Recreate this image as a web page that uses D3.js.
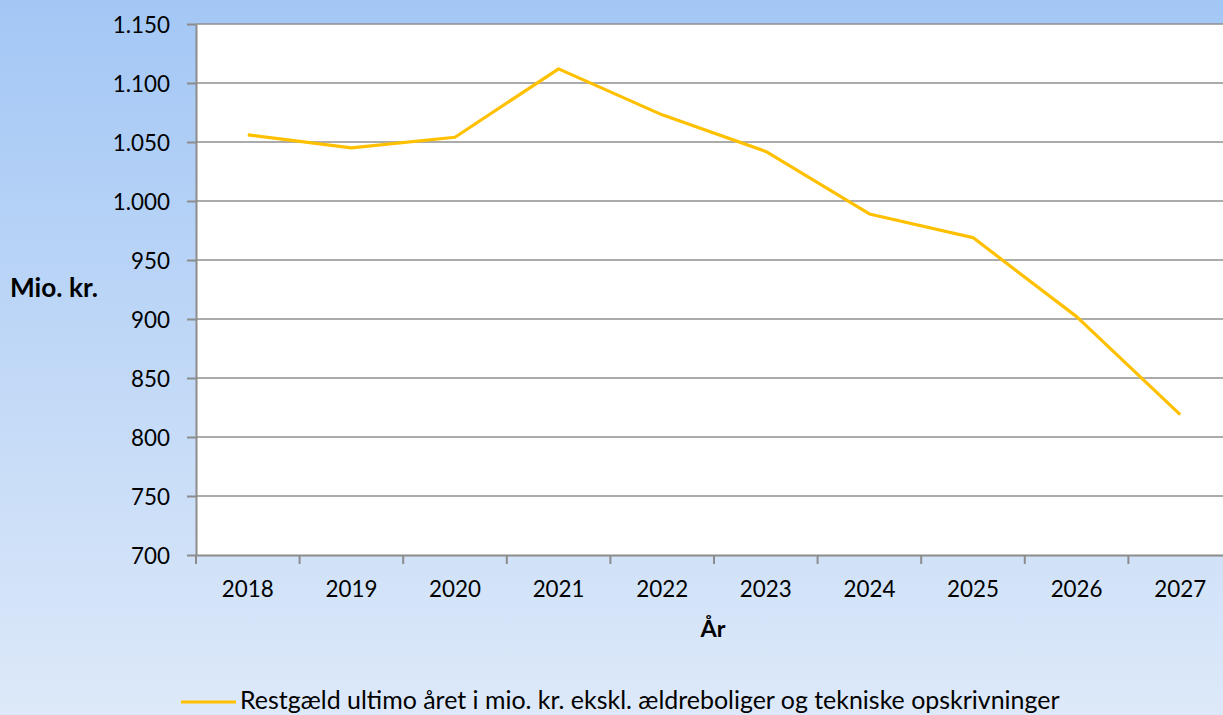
<!DOCTYPE html>
<html>
<head>
<meta charset="utf-8">
<script src="https://cdn.jsdelivr.net/npm/d3@7"></script>
<style>
  html, body { margin: 0; padding: 0; }
  svg { display: block; }
  svg text { font-family: Lato, "Open Sans", sans-serif; fill: #000; }
</style>
</head>
<body>
<svg id="chart" width="1223" height="715"></svg>
<script>
var years = ["2018", "2019", "2020", "2021", "2022", "2023", "2024", "2025", "2026", "2027"];
var restgaeld = [1056, 1045, 1054, 1112, 1073, 1042, 989, 969, 902, 819];
var yTicks = [700, 750, 800, 850, 900, 950, 1000, 1050, 1100, 1150];
var seriesName = "Restgæld ultimo året i mio. kr. ekskl. ældreboliger og tekniske opskrivninger";

var W = 1223, H = 715;
var margin = {left: 196, top: 24, right: -9, bottom: 160};
var svg = d3.select("#chart");

// size a text so that it gets the width it has in the picture
function fitText(sel, width) {
    var w = sel.node().getComputedTextLength();
    var fs = parseFloat(sel.attr("font-size"));
    sel.attr("font-size", fs * width / w);
}

// background gradient
var defs = svg.append("defs");
var grad = defs.append("linearGradient").attr("id", "bg")
    .attr("x1", 0).attr("y1", 0).attr("x2", 0).attr("y2", 1);
grad.append("stop").attr("offset", "0%").attr("stop-color", "#a3c7f5");
grad.append("stop").attr("offset", "100%").attr("stop-color", "#dde9f9");
svg.append("rect").attr("width", W).attr("height", H).attr("fill", "url(#bg)");

var x = d3.scaleBand().domain(years).range([margin.left, W - margin.right]);
var y = d3.scaleLinear().domain([700, 1150]).range([H - margin.bottom, margin.top]);

var locale = d3.formatLocale({decimal: ",", thousands: ".", grouping: [3], currency: ["", " kr."]});
var fmt = locale.format(",d");

// plot area
svg.append("rect")
    .attr("x", margin.left).attr("y", margin.top)
    .attr("width", W - margin.right - margin.left)
    .attr("height", y(700) - y(1150))
    .attr("fill", "#fff");

// gridlines
svg.append("g").selectAll("line")
    .data(yTicks.slice(1))
    .enter().append("line")
    .attr("x1", margin.left).attr("x2", W)
    .attr("y1", function(d) { return y(d); })
    .attr("y2", function(d) { return y(d); })
    .attr("stroke", "#8f8f8f").attr("stroke-width", 1.3);

// y axis
var yAxis = svg.append("g")
    .attr("transform", "translate(" + margin.left + ",0)")
    .call(d3.axisLeft(y).tickValues(yTicks).tickFormat(fmt).tickSize(9).tickSizeOuter(0).tickPadding(17));
yAxis.attr("font-family", null).attr("font-size", null);
yAxis.select(".domain").attr("stroke", "#8c8c8c").attr("stroke-width", 2);
yAxis.selectAll(".tick line").attr("stroke", "#8c8c8c").attr("stroke-width", 2);
yAxis.selectAll("text").attr("font-size", 22.4).attr("fill", null).attr("dy", "0.36em");

// x axis
var xAxis = svg.append("g")
    .attr("transform", "translate(0," + y(700) + ")")
    .call(d3.axisBottom(x).tickSize(0).tickPadding(26));
xAxis.attr("font-family", null).attr("font-size", null);
xAxis.select(".domain").attr("stroke", "#8c8c8c").attr("stroke-width", 2);
xAxis.selectAll("text").attr("font-size", 22.4).attr("fill", null);
// tick marks at band boundaries
xAxis.append("g").selectAll("line")
    .data(years)
    .enter().append("line")
    .attr("x1", function(d) { return x(d); })
    .attr("x2", function(d) { return x(d); })
    .attr("y1", 0).attr("y2", 9)
    .attr("stroke", "#8c8c8c").attr("stroke-width", 2);

// series line
var line = d3.line()
    .x(function(d, i) { return x(years[i]) + x.bandwidth() / 2; })
    .y(function(d) { return y(d); });
svg.append("path")
    .datum(restgaeld)
    .attr("d", line)
    .attr("fill", "none")
    .attr("stroke", "#ffc000")
    .attr("stroke-width", 3.2)
    .attr("stroke-linejoin", "round");

// axis titles
var yTitle = svg.append("text").attr("x", 10).attr("y", 297)
    .attr("font-size", 20).attr("font-weight", "bold").text("Mio. kr.");
fitText(yTitle, 88);
var xTitle = svg.append("text").attr("x", 713).attr("y", 637).attr("text-anchor", "middle")
    .attr("font-size", 20).attr("font-weight", "bold").text("År");
fitText(xTitle, 25);

// legend
svg.append("line").attr("x1", 181).attr("x2", 236).attr("y1", 702).attr("y2", 702)
    .attr("stroke", "#ffc000").attr("stroke-width", 3.2);
var legText = svg.append("text").attr("x", 240).attr("y", 708.5)
    .attr("font-size", 20).text(seriesName);
fitText(legText, 820);
</script>
</body>
</html>
